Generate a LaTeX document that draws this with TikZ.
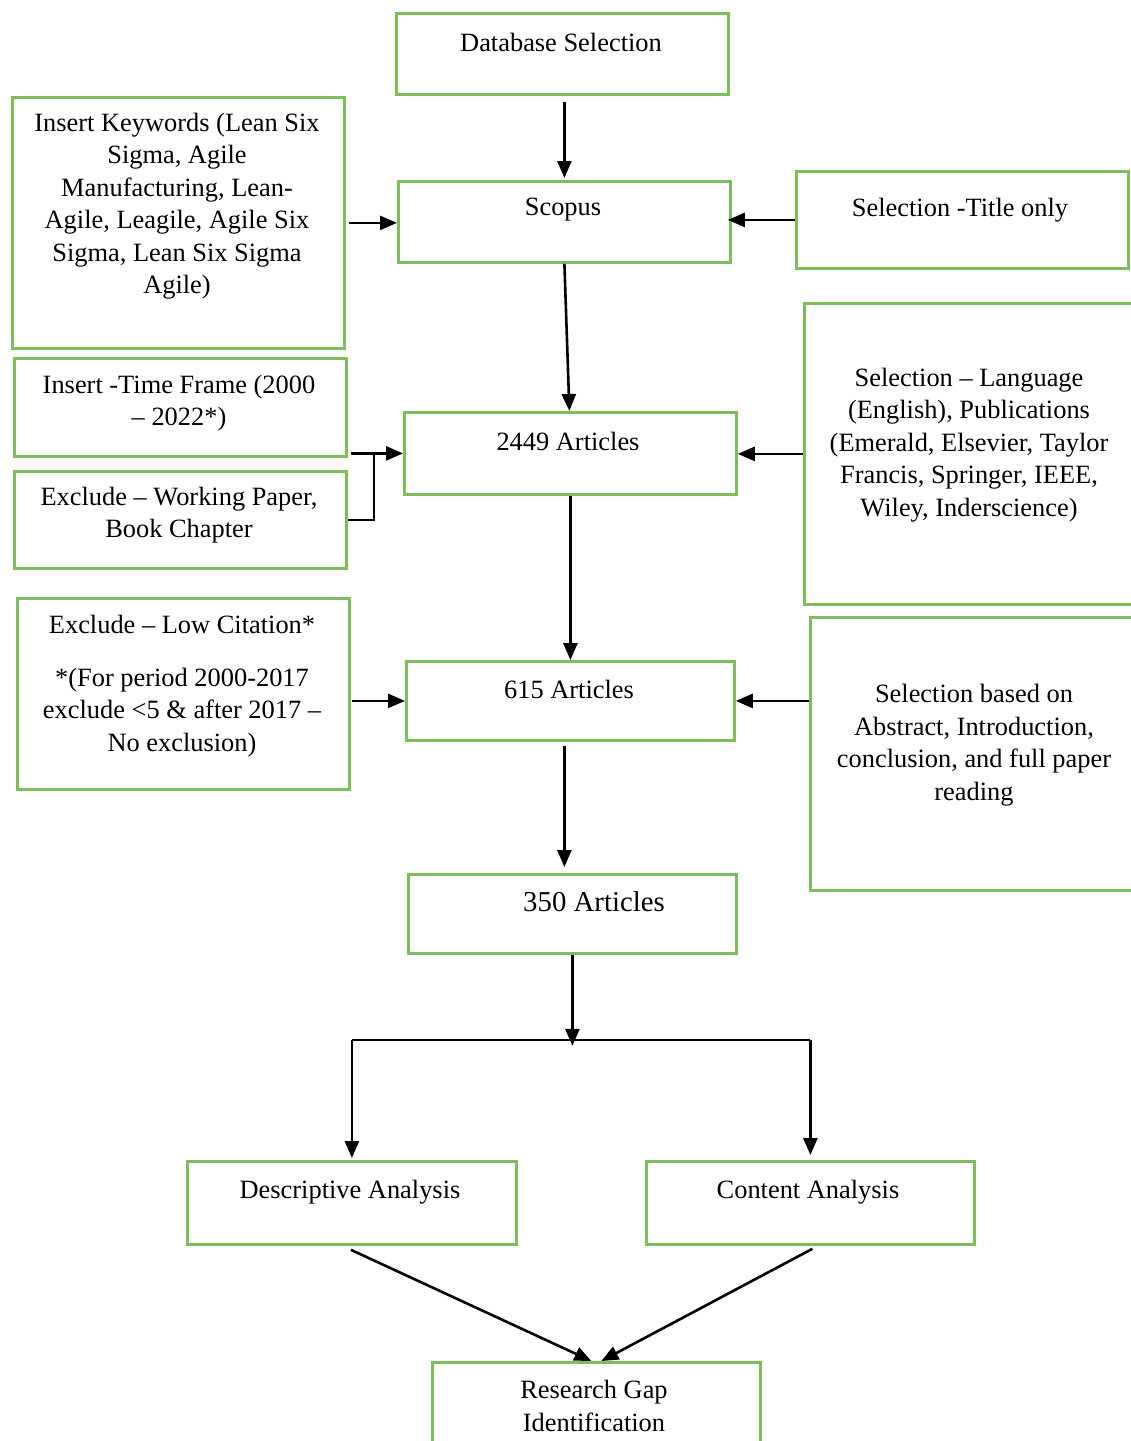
\documentclass[tikz,border=0pt]{standalone}
\usepackage{fontspec}
\setmainfont{Liberation Serif}
\usetikzlibrary{arrows.meta,calc}
\definecolor{boxgreen}{RGB}{125,190,90}
\begin{document}
\begin{tikzpicture}[x=1pt,y=-1pt,
  box/.style={draw=boxgreen, line width=2.8pt, rectangle, anchor=north west, inner sep=0pt},
  txt/.style={font=\fontsize{26.4}{32.5}\selectfont, align=center, inner sep=0pt},
  bigtxt/.style={font=\fontsize{28.8}{34}\selectfont, align=center, inner sep=0pt},
  arr/.style={draw=black, line width=2.6pt, -{Triangle[length=17pt,width=14pt]}},
  ln/.style={draw=black, line width=2.6pt}]
\clip (0,0) rectangle (1131,1441);
\fill[white] (0,0) rectangle (1131,1441);

% ---- boxes ----
\node[box, minimum width=332pt, minimum height=81pt]  (db)    at (395,12)   {};
\node[box, minimum width=332pt, minimum height=251pt] (kw)    at (11,96)    {};
\node[box, minimum width=332pt, minimum height=81pt]  (scopus) at (397,180) {};
\node[box, minimum width=332pt, minimum height=97pt]  (title) at (795,170)  {};
\node[box, minimum width=332pt, minimum height=98pt]  (time)  at (13,357)   {};
\node[box, minimum width=332pt, minimum height=97pt]  (excl)  at (13,470)   {};
\node[box, minimum width=332pt, minimum height=82pt]  (a2449) at (403,411)  {};
\node[box, minimum width=340pt, minimum height=301pt] (lang)  at (803,302)  {};
\node[box, minimum width=332pt, minimum height=191pt] (cit)   at (16,597)   {};
\node[box, minimum width=328pt, minimum height=79pt]  (a615)  at (405,660)  {};
\node[box, minimum width=340pt, minimum height=273pt] (abs)   at (809,616)  {};
\node[box, minimum width=328pt, minimum height=79pt]  (a350)  at (407,873)  {};
\node[box, minimum width=329pt, minimum height=83pt]  (desc)  at (186,1160) {};
\node[box, minimum width=328pt, minimum height=83pt]  (cont)  at (645,1160) {};
\node[box, minimum width=328pt, minimum height=100pt] (gap)   at (431,1361) {};

% ---- texts ----
\node[txt] (dbT)    at (561,42)  {Database Selection};
\node[txt] (kwT)    at (177,206) {Insert Keywords (Lean Six\\Sigma, Agile\\Manufacturing, Lean-\\Agile, Leagile, Agile Six\\Sigma, Lean Six Sigma\\Agile)};
\node[txt] (scopusT) at (563,210) {Scopus};
\node[txt] (titleT) at (960,210) {Selection -Title only};
\node[txt] (timeT)  at (179,403) {Insert -Time Frame (2000\\– 2022*)};
\node[txt] (exclT)  at (179,515) {Exclude – Working Paper,\\Book Chapter};
\node[txt] (a2449T) at (568,441) {2449 Articles};
\node[txt] (langT)  at (969,445) {Selection – Language\\(English), Publications\\(Emerald, Elsevier, Taylor\\Francis, Springer, IEEE,\\Wiley, Inderscience)};
\node[txt] (citT)   at (182,686) {Exclude – Low Citation*\\[20pt]*(For period 2000-2017\\exclude <5 \& after 2017 –\\No exclusion)};
\node[txt] (a615T)  at (569,689) {615 Articles};
\node[txt] (absT)   at (974,745) {Selection based on\\Abstract, Introduction,\\conclusion, and full paper\\reading};
\node[bigtxt] (a350T) at (594,902) {350 Articles};
\node[txt] (descT)  at (350,1192) {Descriptive Analysis};
\node[txt] (contT)  at (808,1192) {Content Analysis};
\node[txt] (gapT)   at (594,1406) {Research Gap\\Identification};

% ---- connectors ----
\draw[arr] ($(db.south)+(2,6)$) -- ($(scopus.north)+(0,-2)$);
\draw[arr] ($(kw.east)+(3,0)$) -- (kw.east -| scopus.west);
\draw[arr] (title.west) -- ($(title.west -| scopus.east)+(-4,0)$);
\draw[arr] (scopus.south) -- ($(a2449.north)+(-1,0)$);

% two left-hand filters joined into one arrow
\coordinate (tstart) at ($(time.south east)+(3,-3)$);
\coordinate (tjoin)  at ($(a2449.west)+(-29,0)$);
\draw[ln] (excl.east) -| (tjoin);
\draw[arr] (tstart |- a2449.west) -- (a2449.west);

\draw[arr] (lang.west) -- (lang.west -| a2449.east);
\draw[arr] (a2449.south) -- (a615.north);
\draw[arr] ($(cit.east |- a615.west)+(1,0)$) -- (a615.west);
\draw[arr] (abs.west |- a615.east) -- (a615.east);
\draw[arr] ($(a615.south)+(-6,4)$) -- ($(a350.north)+(-8,-6)$);

% fork to the two analyses
\coordinate (fork) at ($(a350.south)+(0,85)$);
\draw[ln] (fork -| desc.north) -- (fork -| cont.north);
\draw[arr] (a350.south) -- ($(fork)+(0,6)$);
\draw[arr] (fork -| desc.north) -- ($(desc.north)+(0,-2)$);
\draw[arr] (fork -| cont.north) -- ($(cont.north)+(0,-5)$);

\draw[arr] ($(desc.south)+(-1,4)$) -- ($(gap.north)+(-5,0)$);
\draw[arr] ($(cont.south)+(2,3)$) -- ($(gap.north)+(5,0)$);
\end{tikzpicture}
\end{document}
